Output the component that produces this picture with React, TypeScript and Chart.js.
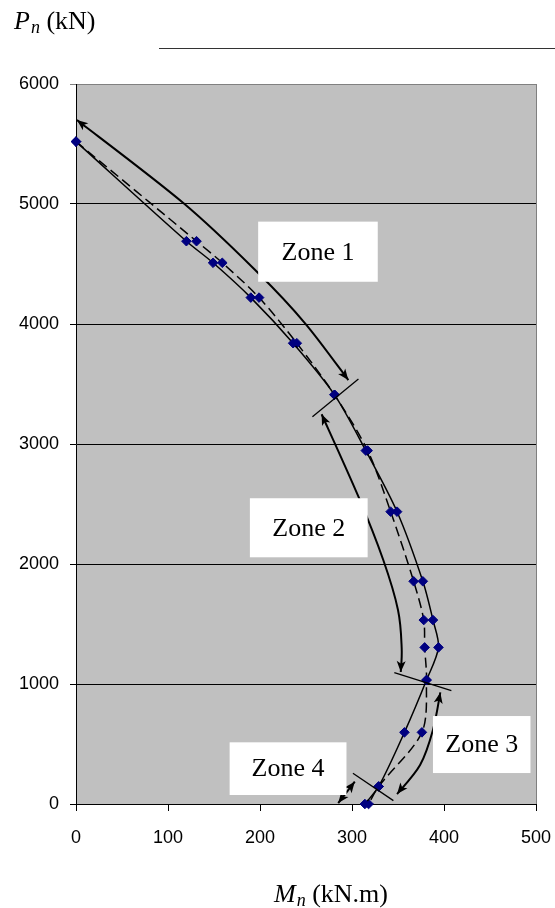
import React, { useEffect, useRef } from "react";
import { Chart, registerables } from "chart.js";

Chart.register(...registerables);

// ---- data ----
const pLevels = [5520, 4690, 4510, 4220, 3840, 3410, 2945, 2436, 1856, 1533, 1305, 1033, 597, 146, 0];
const mSolid = [0, 120, 149, 190, 236, 281, 315, 349, 377, 388, 394, 381, 357, 329, 314];
const mDashed = [0, 131, 159, 199, 240, 281, 317, 342, 367, 378, 379, 381, 376, 329, 318];

const xTickValues = [0, 100, 200, 300, 400, 500];
const yTickValues = [0, 1000, 2000, 3000, 4000, 5000, 6000];

// zone arrows (data coordinates: [M, P])
const zone1Arrow = [[1, 5700], [117, 5006], [198, 4425], [249, 4006], [296, 3533]];
const zone2Arrow = [[267, 3248], [307, 2561], [334, 2033], [350, 1617], [354, 1300], [353, 1100]];
const zone3Arrow = [[396, 930], [388, 617], [374, 325], [349, 83]];
const zone4Arrow = [[285, 8], [303, 186]];

// zone boundary marks
const boundary12 = [[257, 3228], [307, 3542]];
const boundary23 = [[346, 1094], [408, 944]];
const boundary34 = [[301, 256], [345, 28]];

// zone labels and their boxes (M range, P range)
const zoneLabels = ["Zone 1", "Zone 2", "Zone 3", "Zone 4"];
const zoneBoxM = [[198, 328], [189, 317], [388, 494], [167, 294]];
const zoneBoxP = [[4853, 4352], [2548, 2056], [733, 258], [514, 75]];

const SERIF = "'Liberation Serif', 'Times New Roman', serif";
const SANS = "'Liberation Sans', Arial, sans-serif";

type Pt = { x: number; y: number };

function toPx(chart: any, arr: number[][]): Pt[] {
  const xs = chart.scales.x;
  const ys = chart.scales.y;
  return arr.map(([m, p]) => ({ x: xs.getPixelForValue(m), y: ys.getPixelForValue(p) }));
}

function smoothPath(ctx: CanvasRenderingContext2D, pts: Pt[]) {
  ctx.moveTo(pts[0].x, pts[0].y);
  const t = 1 / 6;
  for (let i = 0; i < pts.length - 1; i++) {
    const p0 = pts[i - 1] || pts[i];
    const p1 = pts[i];
    const p2 = pts[i + 1];
    const p3 = pts[i + 2] || p2;
    ctx.bezierCurveTo(
      p1.x + (p2.x - p0.x) * t,
      p1.y + (p2.y - p0.y) * t,
      p2.x - (p3.x - p1.x) * t,
      p2.y - (p3.y - p1.y) * t,
      p2.x,
      p2.y
    );
  }
}

function arrowHead(ctx: CanvasRenderingContext2D, tip: Pt, from: Pt) {
  const ang = Math.atan2(tip.y - from.y, tip.x - from.x);
  const len = 11;
  const half = 4.5;
  ctx.beginPath();
  ctx.moveTo(tip.x, tip.y);
  ctx.lineTo(
    tip.x - len * Math.cos(ang) + half * Math.sin(ang),
    tip.y - len * Math.sin(ang) - half * Math.cos(ang)
  );
  ctx.lineTo(tip.x - len * Math.cos(ang) * 0.75, tip.y - len * Math.sin(ang) * 0.75);
  ctx.lineTo(
    tip.x - len * Math.cos(ang) - half * Math.sin(ang),
    tip.y - len * Math.sin(ang) + half * Math.cos(ang)
  );
  ctx.closePath();
  ctx.fill();
}

function drawArrow(ctx: CanvasRenderingContext2D, pts: Pt[]) {
  ctx.beginPath();
  if (pts.length > 2) smoothPath(ctx, pts);
  else {
    ctx.moveTo(pts[0].x, pts[0].y);
    ctx.lineTo(pts[1].x, pts[1].y);
  }
  ctx.stroke();
  const n = pts.length;
  arrowHead(ctx, pts[n - 1], pts[n - 2]);
  arrowHead(ctx, pts[0], pts[1]);
}

const overlayPlugin = {
  id: "overlay",
  beforeDraw(chart: any) {
    const { ctx, chartArea: a } = chart;
    ctx.save();
    ctx.fillStyle = "#C0C0C0";
    ctx.fillRect(a.left, a.top, a.right - a.left, a.bottom - a.top);
    ctx.restore();
  },
  afterDatasetsDraw(chart: any) {
    const { ctx, chartArea: a } = chart;
    ctx.save();
    // right border of plot area
    ctx.strokeStyle = "#808080";
    ctx.lineWidth = 1;
    ctx.beginPath();
    ctx.moveTo(a.right + 0.5, a.top);
    ctx.lineTo(a.right + 0.5, a.bottom);
    ctx.stroke();

    // arrows
    ctx.strokeStyle = "#000";
    ctx.fillStyle = "#000";
    ctx.lineWidth = 2;
    [zone1Arrow, zone2Arrow, zone3Arrow, zone4Arrow].forEach((arr) => drawArrow(ctx, toPx(chart, arr)));

    // boundary marks
    ctx.lineWidth = 1.3;
    [boundary12, boundary23, boundary34].forEach((arr) => {
      const p = toPx(chart, arr);
      ctx.beginPath();
      ctx.moveTo(p[0].x, p[0].y);
      ctx.lineTo(p[1].x, p[1].y);
      ctx.stroke();
    });

    // zone label boxes
    zoneLabels.forEach((label, i) => {
      const x1 = chart.scales.x.getPixelForValue(zoneBoxM[i][0]);
      const x2 = chart.scales.x.getPixelForValue(zoneBoxM[i][1]);
      const y1 = chart.scales.y.getPixelForValue(zoneBoxP[i][0]);
      const y2 = chart.scales.y.getPixelForValue(zoneBoxP[i][1]);
      ctx.fillStyle = "#FFFFFF";
      ctx.fillRect(x1, y1, x2 - x1, y2 - y1);
      ctx.fillStyle = "#000";
      ctx.font = `26px ${SERIF}`;
      ctx.textAlign = "center";
      ctx.textBaseline = "middle";
      ctx.fillText(label, (x1 + x2) / 2, (y1 + y2) / 2 + 1);
    });
    ctx.restore();
  },
  afterDraw(chart: any) {
    const { ctx } = chart;
    ctx.save();
    ctx.fillStyle = "#000";
    ctx.textBaseline = "alphabetic";
    ctx.textAlign = "left";
    // Y title: P_n (kN)
    let x = 14;
    const yb = 29;
    ctx.font = `italic 26px ${SERIF}`;
    ctx.fillText("P", x, yb);
    x += ctx.measureText("P").width + 1;
    ctx.font = `italic 18px ${SERIF}`;
    ctx.fillText("n", x, yb + 4);
    x += ctx.measureText("n").width;
    ctx.font = `26px ${SERIF}`;
    ctx.fillText(" (kN)", x, yb);

    // X title: M_n (kN.m)
    x = 274;
    const xb = 902;
    ctx.font = `italic 26px ${SERIF}`;
    ctx.fillText("M", x, xb);
    x += ctx.measureText("M").width + 1;
    ctx.font = `italic 18px ${SERIF}`;
    ctx.fillText("n", x, xb + 4);
    x += ctx.measureText("n").width;
    ctx.font = `26px ${SERIF}`;
    ctx.fillText(" (kN.m)", x, xb);

    // decorative top line
    ctx.strokeStyle = "#333";
    ctx.lineWidth = 1;
    ctx.beginPath();
    ctx.moveTo(159, 48.5);
    ctx.lineTo(555, 48.5);
    ctx.stroke();
    ctx.restore();
  },
};

export default function App() {
  const ref = useRef<HTMLCanvasElement | null>(null);

  useEffect(() => {
    if (!ref.current) return;
    const pointStyle = {
      pointStyle: "rectRot" as const,
      pointRadius: 4.8,
      pointBackgroundColor: "#000080",
      pointBorderColor: "#000080",
      pointBorderWidth: 1,
    };
    const chart = new Chart(ref.current, {
      type: "scatter",
      data: {
        datasets: [
          {
            label: "solid",
            data: pLevels.map((p, i) => ({ x: mSolid[i], y: p })),
            showLine: true,
            borderColor: "#000",
            borderWidth: 1.5,
            tension: 0.3,
            clip: false as any,
            ...pointStyle,
          },
          {
            label: "dashed",
            data: pLevels.map((p, i) => ({ x: mDashed[i], y: p })),
            showLine: true,
            borderColor: "#000",
            borderWidth: 1.5,
            borderDash: [10, 5],
            tension: 0.3,
            clip: false as any,
            ...pointStyle,
          },
        ],
      },
      options: {
        animation: false,
        responsive: false,
        layout: { autoPadding: false, padding: { top: 84, right: 19, left: 0, bottom: 0 } } as any,
        plugins: { legend: { display: false }, tooltip: { enabled: false } },
        scales: {
          x: {
            type: "linear",
            min: 0,
            max: 500,
            afterBuildTicks: (s: any) => {
              s.ticks = xTickValues.map((v) => ({ value: v }));
            },
            ticks: {
              font: { size: 18, family: SANS },
              color: "#000",
              padding: 16,
              maxRotation: 0,
              callback: (v: any) => String(v),
            },
            grid: { drawOnChartArea: false, drawTicks: true, tickLength: 7, color: "#000" },
            border: { color: "#000", width: 1 },
            afterFit: (s: any) => {
              s.height = 104;
              s.paddingLeft = 0;
              s.paddingRight = 0;
            },
          },
          y: {
            type: "linear",
            min: 0,
            max: 6000,
            afterBuildTicks: (s: any) => {
              s.ticks = yTickValues.map((v) => ({ value: v }));
            },
            ticks: {
              font: { size: 18, family: SANS },
              color: "#000",
              padding: 11,
              callback: (v: any) => String(v),
            },
            grid: {
              drawTicks: true,
              tickLength: 6,
              color: (c: any) => (c.tick && c.tick.value === 6000 ? "#808080" : "#000"),
            },
            border: { color: "#000", width: 1 },
            afterFit: (s: any) => {
              s.width = 76;
              s.paddingTop = 0;
              s.paddingBottom = 0;
            },
          },
        },
      },
      plugins: [overlayPlugin],
    });
    return () => chart.destroy();
  }, []);

  return (
    <div style={{ position: "absolute", left: 0, top: 0, width: 555, height: 908, background: "#fff" }}>
      <canvas ref={ref} width={555} height={908} style={{ display: "block", width: 555, height: 908 }} />
    </div>
  );
}
